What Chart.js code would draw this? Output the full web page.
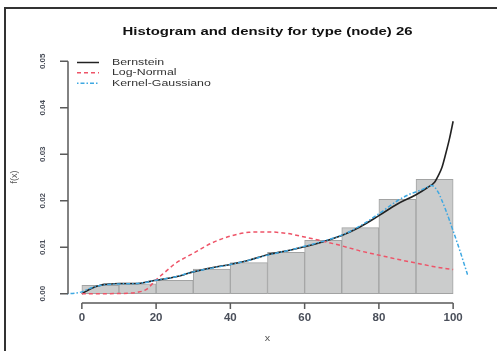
<!DOCTYPE html>
<html>
<head>
<meta charset="utf-8">
<script src="https://cdn.jsdelivr.net/npm/chart.js@4.4.0/dist/chart.umd.min.js"></script>
<style>
  html, body { margin: 0; padding: 0; background: #fff; }
  canvas { display: block; }
</style>
</head>
<body>
<canvas id="myChart" width="497" height="351"></canvas>
<script>
// histogram bins (mid points, width 10) and densities
var binMids = [5, 15, 25, 35, 45, 55, 65, 75, 85, 95];
var binDens = [0.0018, 0.0021, 0.0029, 0.0053, 0.0067, 0.0089, 0.0115, 0.0142, 0.0203, 0.0246];

// Bernstein density
var bernX = [0, 1.5, 3, 4.5, 6, 8, 10, 12.5, 15, 17.5, 20, 22.5, 25, 27.5, 30, 35, 40, 45, 50, 55, 60, 65, 70, 75, 80, 85, 90, 93, 95, 96, 97, 98, 99, 100];
var bernY = [0, 0.0007, 0.0013, 0.0017, 0.0020, 0.0021, 0.0022, 0.0022, 0.0022, 0.0025, 0.0029, 0.0032, 0.0036, 0.0041, 0.0047, 0.0056, 0.0063, 0.0072, 0.0084, 0.0092, 0.0101, 0.0112, 0.0125, 0.0144, 0.0168, 0.0193, 0.0213, 0.0228, 0.0240, 0.0254, 0.0272, 0.0301, 0.0333, 0.0371];

// Log-Normal density
var lnX = [0, 5, 10, 12.5, 15, 17.5, 20, 22.5, 25, 30, 35, 40, 45, 50, 55, 60, 65, 70, 75, 80, 85, 90, 95, 100];
var lnY = [0, 0, 0.00005, 0.0001, 0.0003, 0.0010, 0.0030, 0.0047, 0.0064, 0.0087, 0.0109, 0.0124, 0.0132, 0.0133, 0.0130, 0.0122, 0.0113, 0.0103, 0.0092, 0.0083, 0.0074, 0.0066, 0.0058, 0.0052];

// Gaussian kernel density
var kdX = [-4, -2, 0, 2, 4, 6, 10, 15, 20, 25, 30, 35, 40, 45, 50, 55, 60, 65, 70, 75, 80, 85, 88, 91, 93, 94.2, 96, 97, 98, 99, 100, 101, 102, 103, 104];
var kdY = [0, 0.0001, 0.0004, 0.0011, 0.0016, 0.0019, 0.0021, 0.0022, 0.0029, 0.0036, 0.0047, 0.0055, 0.0063, 0.0072, 0.0083, 0.0092, 0.0102, 0.0113, 0.0126, 0.0146, 0.0172, 0.0200, 0.0213, 0.0222, 0.0229, 0.0233, 0.0218, 0.0200, 0.0180, 0.0158, 0.0135, 0.0112, 0.0088, 0.0063, 0.0038];

var xTicks = [0, 20, 40, 60, 80, 100];
var yTicks = [0, 0.01, 0.02, 0.03, 0.04, 0.05];

var titleText = 'Histogram and density for type (node) 26';
var legendItems = [
  { label: 'Bernstein', color: '#222222', dash: [] },
  { label: 'Log-Normal', color: '#ee5468', dash: [4, 3] },
  { label: 'Kernel-Gaussiano', color: '#3ea8e2', dash: [1.5, 2, 4, 2] }
];

function pts(xs, ys) {
  var out = [];
  for (var i = 0; i < xs.length; i++) out.push({ x: xs[i], y: ys[i] });
  return out;
}

function wideText(ctx, txt, x, y, sx, align) {
  ctx.save();
  ctx.translate(x, y);
  ctx.scale(sx, 1);
  ctx.textAlign = align;
  ctx.fillText(txt, 0, 0);
  ctx.restore();
}

// R-like axes, title, legend and frame
var rDecor = {
  id: 'rDecor',
  beforeDraw: function (chart) {
    var ctx = chart.ctx;
    ctx.save();
    ctx.fillStyle = '#ffffff';
    ctx.fillRect(0, 0, chart.width, chart.height);
    ctx.restore();
  },
  afterDraw: function (chart) {
    var ctx = chart.ctx;
    var xs = chart.scales.x, ys = chart.scales.y;
    var area = chart.chartArea;
    ctx.save();

    // frame
    ctx.strokeStyle = '#333333';
    ctx.lineWidth = 2;
    ctx.beginPath();
    ctx.moveTo(5, chart.height);
    ctx.lineTo(5, 8);
    ctx.lineTo(chart.width, 8);
    ctx.stroke();

    // axes
    ctx.strokeStyle = '#5a5a5a';
    ctx.lineWidth = 1.5;
    var ax = area.left + 1, ay = area.bottom;
    ctx.beginPath();
    ctx.moveTo(ax, ys.getPixelForValue(yTicks[0]));
    ctx.lineTo(ax, ys.getPixelForValue(yTicks[yTicks.length - 1]));
    yTicks.forEach(function (t) {
      var py = ys.getPixelForValue(t);
      ctx.moveTo(ax, py);
      ctx.lineTo(ax - 8, py);
    });
    ctx.moveTo(xs.getPixelForValue(xTicks[0]), ay);
    ctx.lineTo(xs.getPixelForValue(xTicks[xTicks.length - 1]), ay);
    xTicks.forEach(function (t) {
      var px = xs.getPixelForValue(t);
      ctx.moveTo(px, ay);
      ctx.lineTo(px, ay + 6);
    });
    ctx.stroke();

    // tick labels
    ctx.fillStyle = '#4a4f5a';
    ctx.textBaseline = 'middle';
    ctx.font = 'bold 10px "Liberation Sans", Arial, sans-serif';
    xTicks.forEach(function (t) {
      wideText(ctx, String(t), xs.getPixelForValue(t), 318, 1.15, 'center');
    });
    ctx.font = 'bold 8px "Liberation Sans", Arial, sans-serif';
    yTicks.forEach(function (t) {
      ctx.save();
      ctx.translate(43, ys.getPixelForValue(t));
      ctx.rotate(-Math.PI / 2);
      ctx.textAlign = 'center';
      ctx.fillText(t.toFixed(2), 0, 0);
      ctx.restore();
    });

    // axis titles
    ctx.fillStyle = '#555555';
    ctx.font = '9px "Liberation Sans", Arial, sans-serif';
    wideText(ctx, 'x', (area.left + area.right) / 2, 339, 1.2, 'center');
    ctx.save();
    ctx.translate(15, 177);
    ctx.rotate(-Math.PI / 2);
    ctx.textAlign = 'center';
    ctx.fillText('f(x)', 0, 0);
    ctx.restore();

    // title
    ctx.fillStyle = '#111111';
    ctx.font = 'bold 10.5px "Liberation Sans", Arial, sans-serif';
    wideText(ctx, titleText, (area.left + area.right) / 2, 32, 1.42, 'center');

    // legend
    ctx.font = '9.5px "Liberation Sans", Arial, sans-serif';
    var rowsY = [62.5, 72.8, 83.2];
    legendItems.forEach(function (it, i) {
      ctx.strokeStyle = it.color;
      ctx.lineWidth = 1.5;
      ctx.setLineDash(it.dash);
      ctx.beginPath();
      ctx.moveTo(77, rowsY[i]);
      ctx.lineTo(99, rowsY[i]);
      ctx.stroke();
      ctx.setLineDash([]);
      ctx.fillStyle = '#333333';
      wideText(ctx, it.label, 112, rowsY[i], 1.3, 'left');
    });

    ctx.restore();
  }
};

var ctx = document.getElementById('myChart').getContext('2d');
var myChart = new Chart(ctx, {
  type: 'bar',
  data: {
    datasets: [
      {
        type: 'line',
        label: legendItems[2].label,
        data: pts(kdX, kdY),
        borderColor: legendItems[2].color,
        borderWidth: 1.5,
        borderDash: legendItems[2].dash,
        pointRadius: 0,
        cubicInterpolationMode: 'monotone',
        order: 0
      },
      {
        type: 'line',
        label: legendItems[1].label,
        data: pts(lnX, lnY),
        borderColor: legendItems[1].color,
        borderWidth: 1.5,
        borderDash: legendItems[1].dash,
        pointRadius: 0,
        cubicInterpolationMode: 'monotone',
        order: 1
      },
      {
        type: 'line',
        label: legendItems[0].label,
        data: pts(bernX, bernY),
        borderColor: legendItems[0].color,
        borderWidth: 1.6,
        pointRadius: 0,
        cubicInterpolationMode: 'monotone',
        order: 2
      },
      {
        type: 'bar',
        label: 'hist',
        data: pts(binMids, binDens),
        backgroundColor: '#cbcccc',
        borderColor: '#a2a3a3',
        borderWidth: 1,
        borderSkipped: false,
        barPercentage: 1,
        categoryPercentage: 1,
        order: 3
      }
    ]
  },
  options: {
    responsive: false,
    animation: false,
    layout: { padding: { left: 67, right: 29, top: 52, bottom: 48 } },
    plugins: {
      legend: { display: false },
      tooltip: { enabled: false },
      title: { display: false }
    },
    scales: {
      x: { type: 'linear', min: -4, max: 104, offset: false, display: false },
      y: { type: 'linear', min: -0.002, max: 0.052, display: false }
    }
  },
  plugins: [rDecor]
});
</script>
</body>
</html>
